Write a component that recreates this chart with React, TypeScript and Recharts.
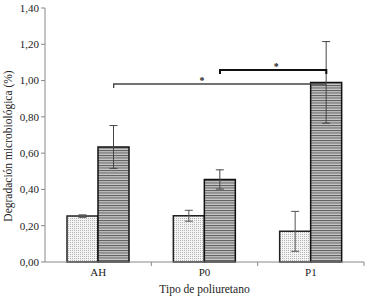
import { BarChart, Bar, XAxis, YAxis, ErrorBar, ReferenceLine } from 'recharts';

const categories = ['AH', 'P0', 'P1'];
const dotted = [0.253, 0.255, 0.169];
const dottedErr = [0.007, 0.03, 0.11];
const striped = [0.634, 0.455, 0.99];
const stripedErr = [0.118, 0.053, 0.225];
const yTicks = [0, 0.2, 0.4, 0.6, 0.8, 1.0, 1.2, 1.4];

// significance brackets: from / to category, height, star position along the span
const brackets = [
  { from: 'AH', to: 'P1', y: 0.981, star: 0.415, color: '#444', width: 1.3, rightTick: false },
  { from: 'P0', to: 'P1', y: 1.058, star: 0.53, color: '#111', width: 2, rightTick: true },
];

const data = categories.map((name, i) => ({
  name,
  dotted: dotted[i],
  dottedErr: dottedErr[i],
  striped: striped[i],
  stripedErr: stripedErr[i],
}));

const W = 369;
const H = 298;
const M = { top: 8, right: 5, bottom: 0, left: 0 };
const Y_W = 45;
const X_H = 36;
const BAR = 31;
const BAND = (W - M.left - M.right - Y_W) / categories.length;
const AXIS_Y = H - M.bottom - X_H;
const FONT = "'Liberation Serif', 'Times New Roman', serif";

const fmt = (v: number) => v.toFixed(2).replace('.', ',');

function XTick(props: any) {
  const { x, payload } = props;
  return (
    <g>
      <line x1={x + BAND / 2} x2={x + BAND / 2} y1={AXIS_Y} y2={AXIS_Y + 4} stroke="#888" />
      <text x={x} y={AXIS_Y + 14} textAnchor="middle" fontFamily={FONT} fontSize={11} fill="#222">
        {payload.value}
      </text>
    </g>
  );
}

function bracketShape(b: (typeof brackets)[number]) {
  return (p: any) => {
    const o = BAR / 2;
    const x1 = p.x1 + o;
    const x2 = p.x2 + o;
    const y = p.y1;
    const d = b.rightTick
      ? `M${x1},${y + 4}L${x1},${y}L${x2},${y}L${x2},${y + 4}`
      : `M${x1},${y + 4}L${x1},${y}L${x2},${y}`;
    return (
      <g>
        <path d={d} fill="none" stroke={b.color} strokeWidth={b.width} />
        <text x={x1 + (x2 - x1) * b.star} y={y - 0.5} textAnchor="middle" fontFamily={FONT} fontSize={10} fontWeight="bold" fill="#222">
          *
        </text>
      </g>
    );
  };
}

export default function App() {
  return (
    <div style={{ position: 'absolute', left: 0, top: 0, width: W, height: H, background: '#fff' }}>
      <BarChart width={W} height={H} data={data} margin={M} barGap={0} barSize={BAR}>
        <defs>
          <pattern id="dots" width="2" height="2" patternUnits="userSpaceOnUse">
            <rect width="2" height="2" fill="#f4f4f4" />
            <rect width="1" height="1" fill="#b4b4b4" />
          </pattern>
          <pattern id="lines" width="2.5" height="2.5" patternUnits="userSpaceOnUse">
            <rect width="3" height="2.5" fill="#c8c8c8" />
            <rect width="3" height="1" fill="#5a5a5a" />
          </pattern>
        </defs>
        <XAxis
          dataKey="name"
          height={X_H}
          tickLine={false}
          axisLine={{ stroke: '#888' }}
          tick={<XTick />}
          label={{ value: 'Tipo de poliuretano', position: 'insideBottom', offset: 5, fontFamily: FONT, fontSize: 11.5, fill: '#222' }}
        />
        <YAxis
          width={Y_W}
          domain={[0, 1.4]}
          ticks={yTicks}
          tickFormatter={fmt}
          tickSize={4}
          tickLine={{ stroke: '#888' }}
          axisLine={{ stroke: '#888' }}
          tick={{ fontFamily: FONT, fontSize: 11, fill: '#222' }}
          label={{
            content: () => (
              <text
                transform={`translate(12,${M.top + (AXIS_Y - M.top) / 2 + 11}) rotate(-90)`}
                textAnchor="middle"
                fontFamily={FONT}
                fontSize={11.5}
                fill="#222"
              >
                Degradación microbiológica (%)
              </text>
            ),
          }}
        />
        <Bar dataKey="dotted" fill="url(#dots)" stroke="#222" strokeWidth={1.5} isAnimationActive={false}>
          <ErrorBar dataKey="dottedErr" width={4} stroke="#555" strokeWidth={1} />
        </Bar>
        <Bar dataKey="striped" fill="url(#lines)" stroke="#111" strokeWidth={1.5} isAnimationActive={false}>
          <ErrorBar dataKey="stripedErr" width={4} stroke="#444" strokeWidth={1} />
        </Bar>
        {brackets.map((b, i) => (
          <ReferenceLine
            key={i}
            segment={[
              { x: b.from, y: b.y },
              { x: b.to, y: b.y },
            ]}
            ifOverflow="visible"
            shape={bracketShape(b)}
          />
        ))}
      </BarChart>
    </div>
  );
}
